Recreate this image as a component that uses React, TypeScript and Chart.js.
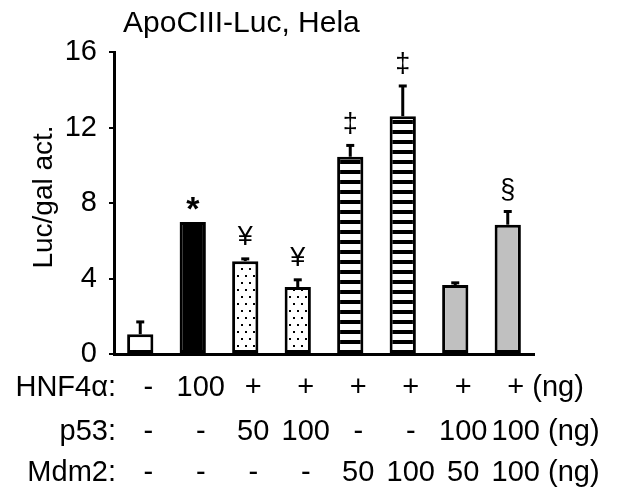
import React, { useEffect, useRef } from "react";
import { Chart, registerables } from "chart.js";

Chart.register(...registerables);

const categories = ["c1", "c2", "c3", "c4", "c5", "c6", "c7", "c8"];
const values = [1.05, 7.0, 4.92, 3.55, 10.45, 12.6, 3.65, 6.85];
const errors = [0.65, 0, 0.12, 0.38, 0.6, 1.6, 0.12, 0.7];
const marks = ["", "*", "¥", "¥", "‡", "‡", "", "§"];
const fillKinds = ["white", "black", "dots", "dots", "stripes", "stripes", "gray", "gray"];
const hnf4aRow = ["-", "100", "+", "+", "+", "+", "+", "+"];
const p53Row = ["-", "-", "50", "100", "-", "-", "100", "100"];
const mdm2Row = ["-", "-", "-", "-", "50", "100", "50", "100"];
const rowLabels = ["HNF4α:", "p53:", "Mdm2:"];
const unitLabel = "(ng)";
const titleText = "ApoCIII-Luc, Hela";
const yTitleText = "Luc/gal act.";
const yMin = 0;
const yMax = 16;
const yStep = 4;

const FONT = '"Liberation Sans", Arial, sans-serif';

function makeDots(ctx: CanvasRenderingContext2D) {
  const c = document.createElement("canvas");
  c.width = 8;
  c.height = 14;
  const g = c.getContext("2d")!;
  g.fillStyle = "#ffffff";
  g.fillRect(0, 0, 8, 14);
  g.fillStyle = "#000000";
  g.fillRect(1, 2, 2, 2);
  g.fillRect(5, 9, 2, 2);
  return ctx.createPattern(c, "repeat")!;
}

function makeStripes(ctx: CanvasRenderingContext2D) {
  const c = document.createElement("canvas");
  c.width = 4;
  c.height = 10;
  const g = c.getContext("2d")!;
  g.fillStyle = "#ffffff";
  g.fillRect(0, 0, 4, 10);
  g.fillStyle = "#000000";
  g.fillRect(0, 0, 4, 4);
  return ctx.createPattern(c, "repeat")!;
}

export default function App() {
  const ref = useRef<HTMLCanvasElement | null>(null);

  useEffect(() => {
    const canvas = ref.current!;
    const ctx = canvas.getContext("2d")!;
    const dots = makeDots(ctx);
    const stripes = makeStripes(ctx);
    const colorFor = (k: string) =>
      k === "white" ? "#ffffff" : k === "black" ? "#000000" : k === "dots" ? dots : k === "stripes" ? stripes : "#c0c0c0";

    const overlay = {
      id: "overlay",
      afterDatasetsDraw(chart: any) {
        const c = chart.ctx as CanvasRenderingContext2D;
        const ys = chart.scales.y;
        const meta = chart.getDatasetMeta(0);
        c.save();
        c.strokeStyle = "#000";
        c.fillStyle = "#000";
        c.lineWidth = 3;
        meta.data.forEach((bar: any, i: number) => {
          const x = bar.x;
          const yTop = ys.getPixelForValue(values[i] + errors[i]);
          if (errors[i] > 0) {
            c.beginPath();
            c.moveTo(x, bar.y);
            c.lineTo(x, yTop);
            c.stroke();
            c.beginPath();
            c.moveTo(x - 4, yTop);
            c.lineTo(x + 4, yTop);
            c.stroke();
          }
          if (marks[i]) {
            const star = marks[i] === "*";
            c.font = star ? `bold 34px ${FONT}` : `27px ${FONT}`;
            c.textAlign = "center";
            c.textBaseline = "middle";
            c.fillText(marks[i], x, star ? yTop - 11 : yTop - 21);
          }
        });
        c.restore();
      },
      afterDraw(chart: any) {
        const c = chart.ctx as CanvasRenderingContext2D;
        const area = chart.chartArea;
        const xs = chart.scales.x;
        c.save();
        c.fillStyle = "#000";
        // title
        c.font = `30px ${FONT}`;
        c.textAlign = "left";
        c.textBaseline = "alphabetic";
        c.fillText(titleText, area.left + 9, 32);
        // y title
        c.save();
        c.font = `28px ${FONT}`;
        c.translate(44, (area.top + area.bottom) / 2 - 6);
        c.rotate(-Math.PI / 2);
        c.textAlign = "center";
        c.textBaseline = "middle";
        c.fillText(yTitleText, 0, 0);
        c.restore();
        // table
        const rows = [hnf4aRow, p53Row, mdm2Row];
        const rowOffsets = [34, 78, 119];
        c.font = `29px ${FONT}`;
        c.textBaseline = "middle";
        const space = c.measureText(" ").width;
        rows.forEach((row, r) => {
          const y = area.bottom + rowOffsets[r];
          c.textAlign = "right";
          c.fillText(rowLabels[r], area.left + 2, y);
          c.textAlign = "center";
          let lastRight = 0;
          row.forEach((txt, i) => {
            const x = xs.getPixelForValue(i) + 8;
            c.fillText(txt, x, y);
            lastRight = x + c.measureText(txt).width / 2;
          });
          c.textAlign = "left";
          c.fillText(unitLabel, lastRight + space, y);
        });
        c.restore();
      },
    };

    const chart = new Chart(canvas, {
      type: "bar",
      data: {
        labels: categories,
        datasets: [
          {
            data: values,
            backgroundColor: fillKinds.map(colorFor) as any,
            borderColor: "#000000",
            borderWidth: 3,
            borderSkipped: false,
            barPercentage: 0.5,
            categoryPercentage: 1,
          },
        ],
      },
      options: {
        animation: false,
        responsive: false,
        maintainAspectRatio: false,
        events: [],
        layout: { padding: { left: 0, top: 52, right: 95, bottom: 0 } },
        plugins: {
          legend: { display: false },
          tooltip: { enabled: false },
          title: { display: false },
        },
        scales: {
          x: {
            type: "category",
            offset: true,
            grid: { display: false },
            ticks: { display: false },
            border: { display: true, color: "#000", width: 3 },
            afterFit: (s: any) => {
              s.height = 145;
            },
          },
          y: {
            min: yMin,
            max: yMax,
            ticks: {
              stepSize: yStep,
              color: "#000",
              font: { family: FONT, size: 29 },
              padding: 12,
            },
            grid: {
              display: true,
              drawOnChartArea: false,
              drawTicks: true,
              tickLength: 5,
              lineWidth: 2,
              color: "#000",
            },
            border: { display: true, color: "#000", width: 3 },
            afterFit: (s: any) => {
              s.width = 114;
            },
          },
        },
      },
      plugins: [overlay],
    });
    return () => chart.destroy();
  }, []);

  return (
    <div style={{ position: "absolute", left: 0, top: 0, width: 629, height: 499, background: "#fff" }}>
      <canvas ref={ref} width={629} height={499} style={{ display: "block" }} />
    </div>
  );
}
